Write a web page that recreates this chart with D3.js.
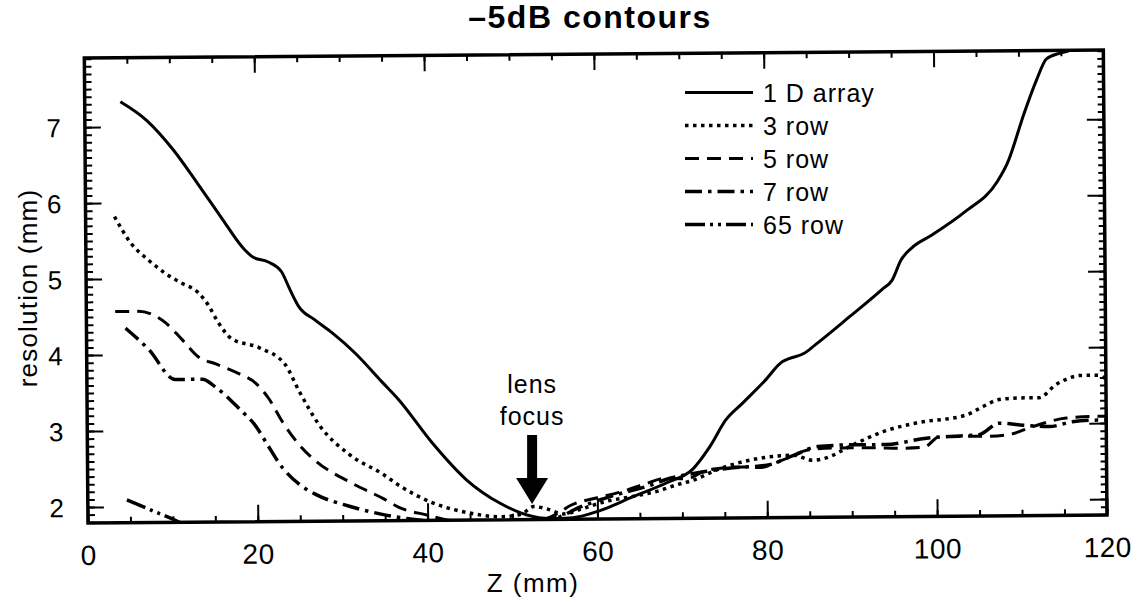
<!DOCTYPE html>
<html>
<head>
<meta charset="utf-8">
<script src="https://cdn.jsdelivr.net/npm/d3@7"></script>
<style>
  body { margin: 0; background: #fff; }
  svg { display: block; font-family: "Liberation Sans", Arial, sans-serif; }
  svg text { font-family: "Liberation Sans", Arial, sans-serif; fill: #000; }
</style>
</head>
<body>
<div id="chart"></div>
<script>
// values: [Z (mm), resolution (mm)]
const seriesNames = ["1 D array", "3 row", "5 row", "7 row", "65 row"];

const array1D = [[4.2,7.33],[7.3,7.08],[10.4,6.69],[13.2,6.25],[15.9,5.81],[18.7,5.37],[19.7,5.27],
  [21.4,5.21],[23.0,5.08],[24.0,4.84],[25.0,4.62],[26.9,4.44],[28.9,4.27],[31.6,4.00],[34.8,3.61],
  [36.7,3.38],[40.6,2.81],[44.6,2.32],[48.5,2.01],[51.7,1.85],[54.4,1.80],[57.1,1.81],[60.3,1.90],
  [64.2,2.08],[68.2,2.26],[71.3,2.44],[73.3,2.73],[75.2,3.08],[77.2,3.30],[79.9,3.60],[81.9,3.84],
  [82.7,3.88],[84.5,3.95],[85.8,4.06],[89.8,4.42],[93.7,4.78],[94.9,4.90],[96.0,5.17],[97.2,5.32],
  [99.6,5.49],[103.5,5.79],[107.4,6.19],[108.6,6.43],[110.6,7.08],[112.1,7.52],[113.3,7.80],
  [114.8,7.87],[115.9,7.90]];

const row3 = [[3.4,5.82],[5.3,5.47],[7.3,5.25],[9.3,5.07],[11.2,4.94],[13.2,4.81],[14.4,4.64],
  [15.5,4.42],[17.1,4.20],[20.3,4.08],[23.4,3.85],[25.0,3.50],[27.3,3.06],[30.9,2.66],[34.8,2.40],
  [36.7,2.25],[40.6,2.02],[44.6,1.89],[48.5,1.83],[51.0,1.86],[52.5,1.96],[54.0,1.93],[56.0,1.86],
  [58.0,1.92],[61.0,2.02],[64.0,2.08],[67.4,2.16],[69.3,2.23],[71.3,2.29],[74.0,2.42],[77.2,2.53],
  [80.3,2.59],[83.1,2.61],[85.4,2.54],[87.0,2.57],[89.8,2.72],[93.7,2.91],[97.6,3.02],[103.5,3.12],
  [105.5,3.23],[107.4,3.32],[110.0,3.34],[112.1,3.34],[114.1,3.51],[117.2,3.63],[119.0,3.63],[120,3.58]];

const row5 = [[3.4,4.57],[6.1,4.57],[7.7,4.53],[9.3,4.42],[11.2,4.20],[13.2,3.96],[15.2,3.87],
  [17.9,3.74],[19.9,3.61],[21.4,3.41],[23.0,3.10],[25.0,2.79],[26.9,2.58],[30.9,2.30],[34.8,2.08],
  [36.7,1.96],[39.9,1.86],[42,1.80],[46,1.75],[50,1.75],[53,1.77],[55,1.85],[57,1.98],[60,2.07],
  [63,2.15],[66,2.26],[68,2.32],[70.5,2.31],[72.5,2.40],[74,2.44],[77.2,2.46],[79.1,2.45],[81.9,2.55],
  [85,2.68],[88,2.70],[92,2.70],[96,2.69],[98.5,2.70],[100.4,2.84],[106.2,2.84],[108.6,2.86],
  [111.3,2.96],[115.3,3.07],[119,3.09],[120,3.09]];

const row7 = [[4.6,4.35],[7.3,4.07],[10.4,3.67],[13.6,3.67],[15.2,3.56],[17.9,3.28],[19.9,3.04],
  [21.0,2.84],[23.0,2.49],[25.0,2.27],[26.9,2.14],[30.9,1.98],[34.8,1.87],[36.7,1.83],[40,1.78],
  [45,1.74],[50,1.74],[53,1.76],[55,1.80],[58,1.95],[62,2.10],[66,2.22],[68,2.30],[72.5,2.40],
  [76,2.45],[80,2.48],[83,2.60],[86,2.72],[90,2.74],[94,2.74],[98.8,2.82],[101.5,2.84],[105,2.86],
  [107.4,3.01],[110.2,2.98],[113.3,2.96],[116,3.02],[119,3.04],[120,3.04]];

const row65 = [[4.6,2.09],[7.3,1.96],[10.4,1.81],[12.0,1.72]];

const xTickValues = [0, 20, 40, 60, 80, 100, 120];
const yTickValues = [2, 3, 4, 5, 6, 7];

// line look per series
const lineStyle = {
  "1 D array": { dash: null, width: 3 },
  "3 row": { dash: "3.5,4.5", width: 3.5 },
  "5 row": { dash: "14,8", width: 3 },
  "7 row": { dash: "17,6,3.5,6", width: 3.5 },
  "65 row": { dash: "20,5,3,5,3,5", width: 3.5 }
};
const seriesData = [array1D, row3, row5, row7, row65];

const margin = { top: 58, left: 88 };
const width = 1019, height = 465;

const svg = d3.select("#chart").append("svg")
  .attr("width", 1140)
  .attr("height", 604);

// the scanned plot is tilted a little, so tilt the plot group too
const plot = svg.append("g")
  .attr("transform", `translate(${margin.left},${margin.top}) rotate(-0.45, 0, ${height})`);

const xScale = d3.scaleLinear().domain([0, 120]).range([0, width]);
const yScale = d3.scaleLinear().domain([1.79, 7.91]).range([height, 0]);

plot.append("clipPath").attr("id", "clip")
  .append("rect").attr("width", width).attr("height", height);

// minor + major ticks, pointing inward
const yMinor = d3.range(18, 80).map(d => d / 10);
const xMinor = d3.range(0, 121, 5);

function tickAxis(axis, values, size) {
  return axis.tickValues(values).tickSize(size).tickFormat("");
}

plot.append("g").call(tickAxis(d3.axisLeft(yScale), yMinor, -7));
plot.append("g").attr("transform", `translate(${width},0)`).call(tickAxis(d3.axisRight(yScale), yMinor, -6));
plot.append("g").call(tickAxis(d3.axisTop(xScale), xMinor, -6));
plot.append("g").attr("transform", `translate(0,${height})`).call(tickAxis(d3.axisBottom(xScale), xMinor, -6));

plot.append("g").attr("transform", `translate(${width},0)`).call(tickAxis(d3.axisRight(yScale), yTickValues, -17));
plot.append("g").call(tickAxis(d3.axisTop(xScale), xTickValues, -16));

const yAxis = plot.append("g")
  .call(d3.axisLeft(yScale).tickValues(yTickValues).tickFormat(d3.format("d")).tickSize(-16).tickPadding(24));
yAxis.selectAll("text")
  .attr("dy", "0.36em")
  .style("font-size", "26px");

const xAxis = plot.append("g")
  .attr("transform", `translate(0,${height})`)
  .call(d3.axisBottom(xScale).tickValues(xTickValues).tickFormat(d3.format("d")).tickSize(-17));
xAxis.selectAll("text")
  .attr("y", 42)
  .attr("dy", null)
  .style("font-size", "28px")
  .style("letter-spacing", "0.5px");

plot.selectAll(".domain").remove();
plot.selectAll(".tick line").attr("stroke", "#000").attr("stroke-width", 2);

// frame
plot.append("rect")
  .attr("width", width)
  .attr("height", height)
  .attr("fill", "none")
  .attr("stroke", "#000")
  .attr("stroke-width", 3.5);

// curves
const line = d3.line()
  .x(d => xScale(d[0]))
  .y(d => yScale(d[1]))
  .curve(d3.curveMonotoneX);

plot.append("g").attr("clip-path", "url(#clip)")
  .selectAll("path")
  .data(seriesData)
  .enter()
  .append("path")
  .attr("d", line)
  .attr("fill", "none")
  .attr("stroke", "#000")
  .attr("stroke-width", (d, i) => lineStyle[seriesNames[i]].width)
  .attr("stroke-dasharray", (d, i) => lineStyle[seriesNames[i]].dash)
  .attr("stroke-linejoin", "round");

// title
svg.append("text")
  .attr("x", 590)
  .attr("y", 28)
  .attr("text-anchor", "middle")
  .style("font-size", "32px")
  .style("font-weight", "bold")
  .style("letter-spacing", "1.5px")
  .text("\u20135dB contours");

// axis titles
svg.append("text")
  .attr("x", 533)
  .attr("y", 592)
  .attr("text-anchor", "middle")
  .style("font-size", "26px")
  .style("letter-spacing", "1.5px")
  .text("Z (mm)");

svg.append("text")
  .attr("transform", "translate(37,288) rotate(-90)")
  .attr("text-anchor", "middle")
  .style("font-size", "26px")
  .style("letter-spacing", "1.2px")
  .text("resolution (mm)");

// lens focus note and arrow
const focusX = margin.left + xScale(52.3);
svg.append("text")
  .attr("x", focusX).attr("y", 393)
  .attr("text-anchor", "middle")
  .style("font-size", "25px")
  .style("letter-spacing", "1px")
  .text("lens");
svg.append("text")
  .attr("x", focusX).attr("y", 425)
  .attr("text-anchor", "middle")
  .style("font-size", "25px")
  .style("letter-spacing", "1px")
  .text("focus");
svg.append("path")
  .attr("d", `M${focusX - 5},435 L${focusX + 5},435 L${focusX + 5},478 L${focusX + 16},478 L${focusX},504 L${focusX - 16},478 L${focusX - 5},478 Z`)
  .attr("fill", "#000");

// legend
const legend = svg.append("g").attr("transform", "translate(685,102)");
const legendItem = legend.selectAll(".legend-item")
  .data(seriesNames)
  .enter()
  .append("g")
  .attr("class", "legend-item")
  .attr("transform", (d, i) => `translate(0,${i * 33})`);

legendItem.append("line")
  .attr("x1", 0).attr("x2", 68)
  .attr("y1", -9.5).attr("y2", -9.5)
  .attr("stroke", "#000")
  .attr("stroke-width", d => lineStyle[d].width)
  .attr("stroke-dasharray", d => lineStyle[d].dash);

legendItem.append("text")
  .attr("x", 78)
  .attr("y", 0)
  .style("font-size", "25px")
  .style("letter-spacing", "1px")
  .text(d => d);
</script>
</body>
</html>
